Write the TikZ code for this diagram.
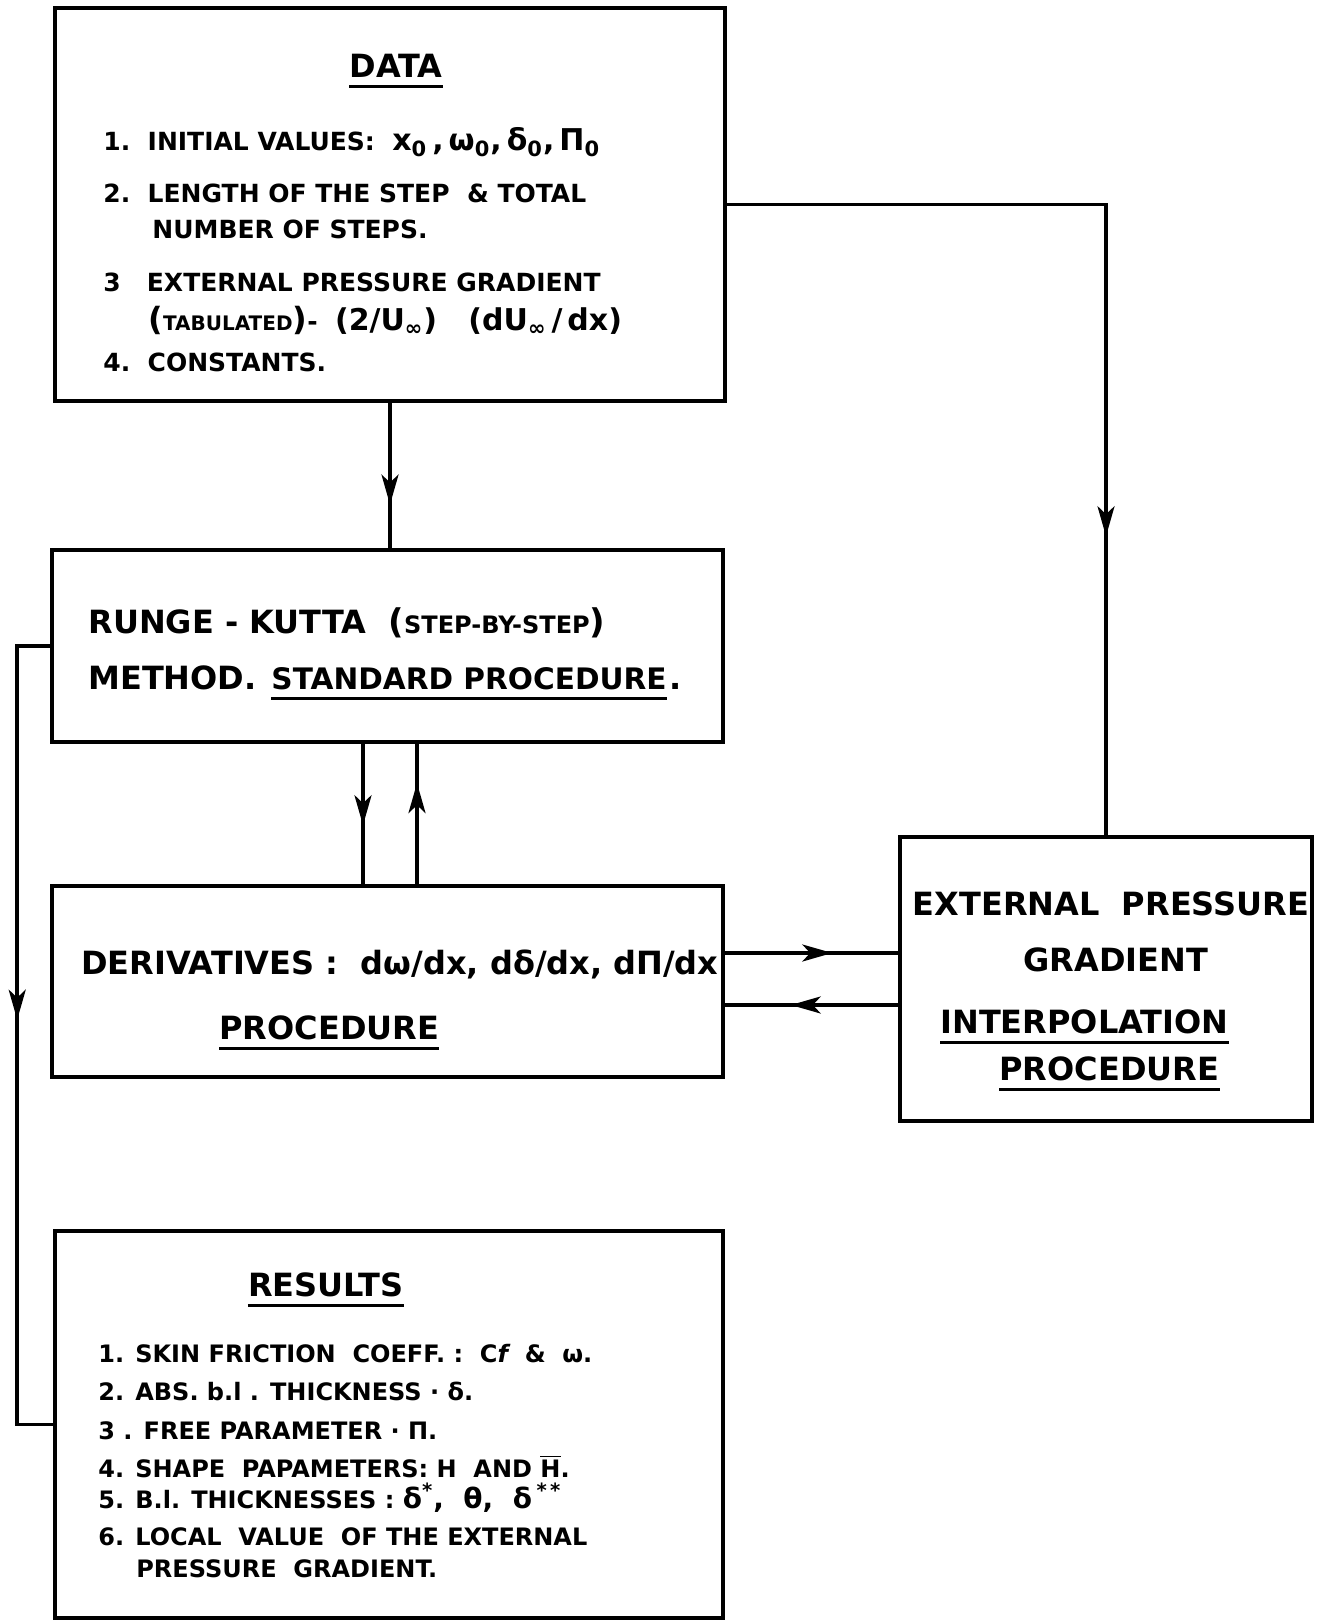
\documentclass[tikz,border=0pt]{standalone}
\usepackage{fontspec}
\setmainfont{DejaVu Sans}
\usetikzlibrary{arrows.meta,fit,positioning}

\tikzset{
  box/.style={draw, line width=1.8pt, inner sep=0pt},
  flow/.style={draw, line width=1.8pt},
  tipto/.style={-{Stealth[length=15pt,width=8.5pt,inset=4pt]}},
  uline/.style={draw, line width=1.5pt},
  lbl/.style={anchor=base west, inner sep=0pt, font=\bfseries\fontsize{12.5}{15}\selectfont},
  res/.style={anchor=base west, inner sep=0pt, font=\bfseries\fontsize{12}{14}\selectfont},
  big/.style={anchor=base west, inner sep=0pt, font=\bfseries\fontsize{16}{19}\selectfont},
  bigc/.style={big, anchor=base},
  head/.style={anchor=base, inner sep=0pt, font=\bfseries\fontsize{16}{19}\selectfont},
}

\begin{document}
\begin{tikzpicture}[x=0.5pt, y=-0.5pt]
    \useasboundingbox (0,0) rectangle (1318,1620);

    % boxes
    \node[box, fit={(55,8) (725,401)}] (data) {};
    \node[box, fit={(52,550) (723,742)}] (rk) {};
    \node[box, fit={(52,886) (723,1077)}] (deriv) {};
    \node[box, fit={(900,837) (1312,1121)}] (epg) {};
    \node[box, fit={(55,1231) (723,1618)}] (results) {};

    % data
    \node[head] (datatitle) at (396,78) {DATA};
    \node[lbl] (dat1) at (103,151) {1.\ \ INITIAL VALUES:\ \ {\fontsize{15}{17}\selectfont x\textsubscript{0}\,,\,ω\textsubscript{0},\,δ\textsubscript{0},\,Π\textsubscript{0}}};
    \node[lbl] (dat2) at (103,203) {2.\ \ LENGTH OF THE STEP\ \ \&\ TOTAL};
    \node[lbl] (dat2b) at (152,239) {NUMBER OF STEPS.};
    \node[lbl] (dat3) at (103,292) {3\ \ \ EXTERNAL PRESSURE GRADIENT};
    \node[lbl] (dat3b) at (148,331) {{\fontsize{16}{18}\selectfont(}{\fontsize{10}{12}\selectfont TABULATED}{\fontsize{16}{18}\selectfont)}-\ \ {\fontsize{15}{18}\selectfont (2/U\textsubscript{∞})\ \ \ (dU\textsubscript{∞}\,/\,dx)}};
    \node[lbl] (dat4) at (103,372) {4.\ \ CONSTANTS.};

    % runge-kutta
    \node[big] (rk1) at (88,633) {RUNGE - KUTTA\ \ {\fontsize{17}{19}\selectfont(}{\fontsize{12}{14}\selectfont STEP-BY-STEP}{\fontsize{17}{19}\selectfont)}};
    \node[big] (rk2) at (88,689) {METHOD.};
    \node[big, font=\bfseries\fontsize{14.8}{18}\selectfont] (rkstd) at ([xshift=7pt]rk2.base east) {STANDARD PROCEDURE};
    \node[big] (rkdot) at ([xshift=1pt]rkstd.base east) {.};

    % derivatives
    \node[big] (der1) at (81,974) {DERIVATIVES :\ \ dω/dx,\ dδ/dx,\ dΠ/dx};
    \node[big] (der2) at (219,1039) {PROCEDURE};

    % pressure gradient
    \node[bigc] (epg1) at (1111,915) {EXTERNAL\ \ PRESSURE};
    \node[bigc] (epg2) at (1116,971) {GRADIENT};
    \node[big] (epg3) at (940,1033) {INTERPOLATION};
    \node[big] (epg4) at (999,1080) {PROCEDURE};

    % results
    \node[head] (restitle) at (326,1296) {RESULTS};
    \node[res] (res1) at (98,1362) {1. SKIN FRICTION\ \ COEFF. :\ \ C{\itshape f}\ \ \&\ \ ω.};
    \node[res] (res2) at (98,1400) {2. ABS. b.l . THICKNESS · δ.};
    \node[res] (res3) at (98,1439) {3 . FREE PARAMETER · Π.};
    \node[res] (res4) at (98,1477) {4. SHAPE\ \ PAPAMETERS: H\ \ AND $\overline{\mbox{H}}$.};
    \node[res] (res5) at (98,1508) {5. B.l. THICKNESSES : {\fontsize{14}{16}\selectfont δ\textsuperscript{*},\ \ θ,\ \ δ\,\textsuperscript{*\,*}}};
    \node[res] (res6) at (98,1545) {6. LOCAL\ \ VALUE\ \ OF THE EXTERNAL};
    \node[res] (res6b) at (136,1577) {PRESSURE\ \ GRADIENT.};

    % underlines
    \foreach \t in {datatitle, rkstd, der2, epg3, epg4, restitle}
        \draw[uline] ([yshift=-4.5pt]\t.base west) -- ([yshift=-4.5pt]\t.base east);

    % connectors
    \draw[flow] (data.south) -- coordinate[pos=0.7] (dtip) (data.south |- rk.north);
    \draw[flow, tipto] (data.south) -- (dtip);

    \draw[flow] (data.east) -| coordinate[pos=0.763] (etip) (epg.north);
    \draw[flow, tipto] (data.east -| epg.north) -- (etip);

    \coordinate (rkdown) at ([xshift=-12.25pt]rk.south);
    \coordinate (rkup) at ([xshift=14.75pt]deriv.north);
    \draw[flow] (rkdown) -- coordinate[pos=0.58] (ktip) (rkdown |- deriv.north);
    \draw[flow, tipto] (rkdown) -- (ktip);
    \draw[flow] (rkup) -- coordinate[pos=0.72] (utip) (rkup |- rk.south);
    \draw[flow, tipto] (rkup) -- (utip);

    \coordinate (derout) at ([yshift=14.25pt]deriv.east);
    \coordinate (epgout) at ([yshift=-13pt]epg.west);
    \draw[flow] (derout) -- coordinate[pos=0.62] (otip) (derout -| epg.west);
    \draw[flow, tipto] (derout) -- (otip);
    \draw[flow] (epgout) -- coordinate[pos=0.62] (itip) (epgout -| deriv.east);
    \draw[flow, tipto] (epgout) -- (itip);

    \draw[flow] (rk.west) -- ++(-33,0) coordinate (loop) |- coordinate[pos=0.24] (ltip) (results.west);
    \draw[flow, tipto] (loop) -- (ltip);
\end{tikzpicture}
\end{document}
